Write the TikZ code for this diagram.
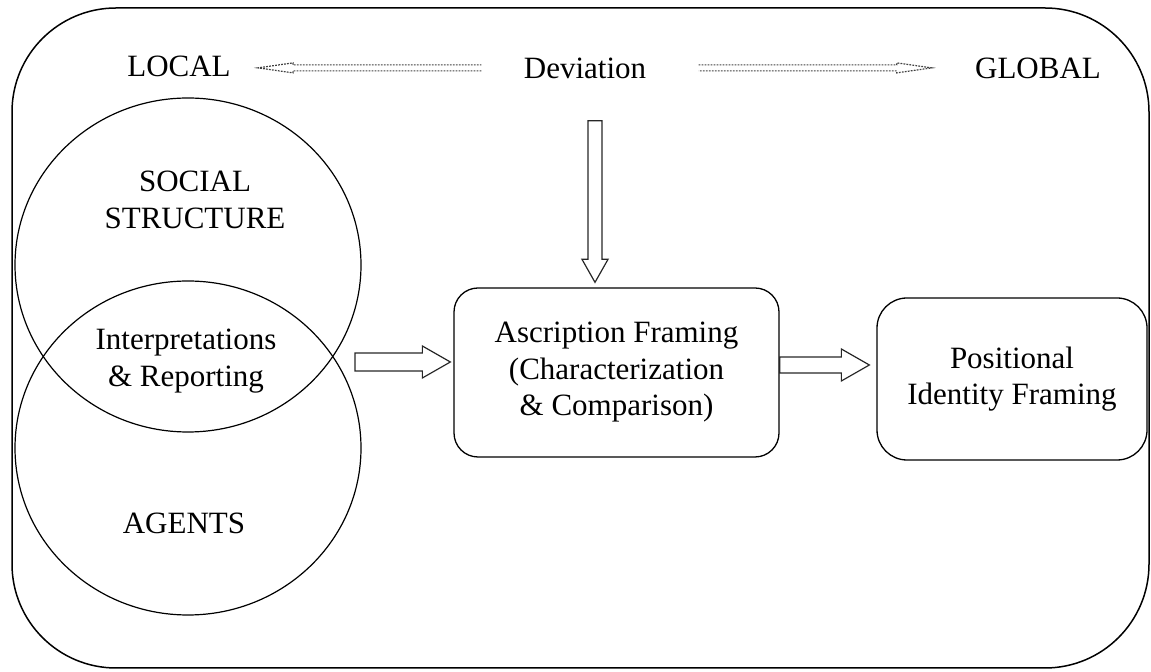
\documentclass[tikz,border=0pt]{standalone}
\usepackage{fontspec}
\setmainfont{Liberation Serif}
\usetikzlibrary{calc, shapes.geometric}
\tikzstyle{ring} = [ellipse, draw = black, line width = 0.6pt, minimum width = 173pt, minimum height = 167pt, inner sep = 0pt]
\tikzstyle{stage} = [rectangle, rounded corners = 12pt, draw = black, line width = 0.65pt, align = center]
\tikzstyle{word} = [inner sep = 2pt, align = center]
\tikzstyle{fatline} = [draw = black!85, line width = 0.6pt, line join = miter]
\tikzstyle{dotline} = [draw = black!75, line width = 0.6pt, dash pattern = on 0.9pt off 0.6pt]

% tail, tip, half shaft, half head, head length
\newcommand{\arrowpts}[5]{
  \coordinate (arTail) at (#1);
  \coordinate (arTip) at (#2);
  \coordinate (arBase) at ($(arTip)!#5!(arTail)$);
  \coordinate (arTailL) at ($(arTail)!#3!90:(arTip)$);
  \coordinate (arTailR) at ($(arTail)!#3!-90:(arTip)$);
  \coordinate (arBaseL) at ($(arBase)!#3!90:(arTip)$);
  \coordinate (arBaseR) at ($(arBase)!#3!-90:(arTip)$);
  \coordinate (arHeadL) at ($(arBase)!#4!90:(arTip)$);
  \coordinate (arHeadR) at ($(arBase)!#4!-90:(arTip)$);
}

\begin{document}
\begin{tikzpicture}[x = 0.5pt, y = -0.5pt, font = \fontsize{15.5}{18.25}\selectfont]
\useasboundingbox (0,0) rectangle (1151,672);
\draw [line width = 0.75pt, rounded corners = 52pt] (12,8) rectangle (1149,668);

% scale line
\node (local) [word, anchor = base] at (179,77) {LOCAL};
\node (dev) [word, anchor = base] at (585,79) {Deviation};
\node (global) [word, anchor = base] at (1038,79) {GLOBAL};

% overlapping circles
\node (social) [ring] at (188,265) {};
\node (agents) [ring] at (188,448) {};
\node (socialText) [word] at (195,200) {SOCIAL\\STRUCTURE};
\node (interp) [word] at (186,361) {Interpretations\\\& Reporting};
\node (agentsText) [word] at (184,523) {AGENTS};

% framing boxes
\node (ascription) [stage, minimum width = 162.5pt, minimum height = 84.5pt] at (616.5,372.5) {Ascription Framing\\(Characterization\\\& Comparison)};
\node (positional) [stage, minimum width = 135pt, minimum height = 81pt, rounded corners = 15pt] at (1012,379) {Positional\\Identity Framing};

\arrowpts{$(dev.west)+(-38,-1)$}{$(local.east)+(23,1)$}{1.5pt}{2.5pt}{17.5pt}
\draw [dotline] (arTailL) -- (arBaseL) -- (arHeadL) -- (arTip) -- (arHeadR) -- (arBaseR) -- (arTailR);
\arrowpts{$(dev.east)+(48,-1)$}{$(global.west)+(-39,-1)$}{1.5pt}{2.5pt}{17.5pt}
\draw [dotline] (arTailL) -- (arBaseL) -- (arHeadL) -- (arTip) -- (arHeadR) -- (arBaseR) -- (arTailR);

\arrowpts{$(dev.south)+(10,37)$}{$(ascription.north)+(-21.5,-5)$}{3.5pt}{6.5pt}{11.5pt}
\draw [fatline] (arTailL) -- (arBaseL) -- (arHeadL) -- (arTip) -- (arHeadR) -- (arBaseR) -- (arTailR) -- cycle;
\arrowpts{$(interp)+(169,1)$}{$(ascription.west |- interp)+(-3,1)$}{4.5pt}{8pt}{14pt}
\draw [fatline] (arTailL) -- (arBaseL) -- (arHeadL) -- (arTip) -- (arHeadR) -- (arBaseR) -- (arTailR) -- cycle;
\arrowpts{$(ascription.east)+(0,-7.5)$}{$(positional.west)+(-7,-14)$}{4pt}{8pt}{14pt}
\draw [fatline] (arTailL) -- (arBaseL) -- (arHeadL) -- (arTip) -- (arHeadR) -- (arBaseR) -- (arTailR) -- cycle;
\end{tikzpicture}
\end{document}
